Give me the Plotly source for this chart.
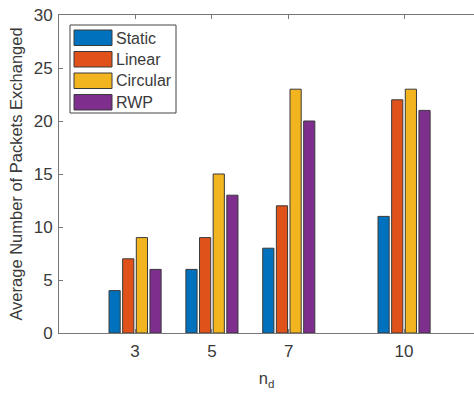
import plotly.graph_objects as go

# Data
nd = [3, 5, 7, 10]
series_names = ["Static", "Linear", "Circular", "RWP"]
static = [4, 6, 8, 11]
linear = [7, 9, 12, 22]
circular = [9, 15, 23, 23]
rwp = [6, 13, 20, 21]
y_ticks = [0, 5, 10, 15, 20, 25, 30]

colors = ["#0072BD", "#E0521A", "#F2B520", "#7E2F8E"]
values = [static, linear, circular, rwp]

W, H = 474, 393
ML, MR, MT, MB = 59, 0, 15, 60
FONT = "Liberation Sans, Arial, Helvetica, sans-serif"
TXT = "#3a3a3a"

fig = go.Figure()
for name, vals, col in zip(series_names, values, colors):
    fig.add_trace(go.Bar(
        x=nd, y=vals, name=name, showlegend=False,
        marker=dict(color=col, line=dict(color="#3a3a3a", width=1)),
    ))

# Legend box drawn in paper coordinates (pixel helpers)
pw, ph = W - ML - MR, H - MT - MB
def px(x):
    return (x - ML) / pw
def py(y):
    return 1 - (y - MT) / ph

shapes = [dict(type="rect", xref="paper", yref="paper",
               x0=px(70), x1=px(176), y0=py(113), y1=py(25),
               line=dict(color="#444444", width=1), fillcolor="white")]
annotations = []
for i, (name, col) in enumerate(zip(series_names, colors)):
    top = 30 + i * 21.5
    shapes.append(dict(type="rect", xref="paper", yref="paper",
                       x0=px(74), x1=px(112), y0=py(top + 15.5), y1=py(top),
                       line=dict(color="#3a3a3a", width=1), fillcolor=col))
    annotations.append(dict(xref="paper", yref="paper", x=px(114), y=py(top + 8),
                            text=name, showarrow=False, xanchor="left",
                            yanchor="middle", font=dict(size=16, color=TXT, family=FONT)))

fig.update_layout(
    width=W, height=H,
    margin=dict(l=ML, r=MR, t=MT, b=MB),
    paper_bgcolor="white", plot_bgcolor="white",
    barmode="group", bargap=0.29, bargroupgap=0.18,
    font=dict(family=FONT, size=16, color=TXT),
    shapes=shapes, annotations=annotations,
    xaxis=dict(
        range=[1.02, 11.82], tickmode="array", tickvals=nd,
        ticktext=[str(v) for v in nd],
        showline=True, linecolor="#777777", linewidth=1, mirror="ticks",
        ticks="inside", ticklen=4, tickcolor="#777777",
        showgrid=False, zeroline=False,
        tickfont=dict(size=17, color=TXT), ticklabelstandoff=3,
        title=dict(text="n<sub>d</sub>", font=dict(size=16.5, color=TXT), standoff=12),
    ),
    yaxis=dict(
        range=[0, 30], tickmode="array", tickvals=y_ticks,
        showline=True, linecolor="#777777", linewidth=1,
        ticks="inside", ticklen=4, tickcolor="#777777",
        showgrid=False, zeroline=False,
        tickfont=dict(size=17, color=TXT), ticklabelstandoff=2,
        title=dict(text="Average Number of Packets Exchanged",
                   font=dict(size=16.5, color=TXT), standoff=6),
    ),
)

fig.write_html("out.html")
